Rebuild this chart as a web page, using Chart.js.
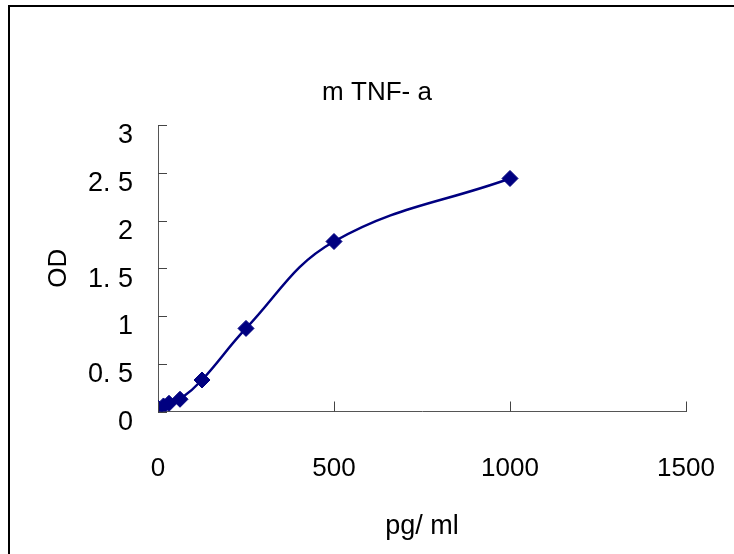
<!DOCTYPE html>
<html>
<head>
<meta charset="utf-8">
<script src="https://cdn.jsdelivr.net/npm/chart.js@4.4.0/dist/chart.umd.min.js"></script>
<style>
  body { margin: 0; background: #fff; }
  canvas { display: block; }
</style>
</head>
<body>
<canvas id="myChart" width="734" height="554"></canvas>
<script>
// standard curve data
var concentrations = [0, 15.6, 31.25, 62.5, 125, 250, 500, 1000];
var odValues = [0.035, 0.058, 0.086, 0.128, 0.33, 0.87, 1.78, 2.44];
var xTickValues = [0, 500, 1000, 1500];
var yTickValues = [0, 0.5, 1, 1.5, 2, 2.5, 3];

var fontFamily = "'Liberation Sans', Arial, sans-serif";

// outer frame + inside tick marks
var framePlugin = {
    id: 'frame',
    beforeDraw: function(chart) {
        var ctx = chart.ctx;
        ctx.save();
        ctx.fillStyle = '#fff';
        ctx.fillRect(0, 0, chart.width, chart.height);
        ctx.strokeStyle = '#000';
        ctx.lineWidth = 2;
        ctx.strokeRect(9, 6, 900, 900);
        ctx.restore();
    },
    afterDraw: function(chart) {
        var ctx = chart.ctx;
        var xs = chart.scales.x, ys = chart.scales.y;
        ctx.save();
        ctx.strokeStyle = '#444';
        ctx.lineWidth = 1;
        ctx.beginPath();
        yTickValues.forEach(function(v) {
            var py = Math.round(ys.getPixelForValue(v)) + 0.5;
            ctx.moveTo(xs.left, py);
            ctx.lineTo(xs.left + 9, py);
        });
        xTickValues.forEach(function(v) {
            var px = Math.round(xs.getPixelForValue(v)) + 0.5;
            ctx.moveTo(px, ys.bottom);
            ctx.lineTo(px, ys.bottom - 10);
        });
        ctx.stroke();
        ctx.restore();
    }
};

function noOverflow(scale) {
    scale.paddingLeft = 0;
    scale.paddingRight = 0;
    scale.paddingTop = 0;
    scale.paddingBottom = 0;
}

var ctx = document.getElementById('myChart');

new Chart(ctx, {
    type: 'scatter',
    data: {
        datasets: [{
            label: 'mTNF-a',
            data: concentrations.map(function(c, i) { return {x: c, y: odValues[i]}; }),
            showLine: true,
            tension: 0.4,
            borderColor: '#000080',
            backgroundColor: '#000080',
            borderWidth: 2.5,
            pointStyle: 'rectRot',
            pointRadius: 8,
            pointBorderWidth: 1,
            pointBorderColor: '#000080',
            pointBackgroundColor: '#000080'
        }]
    },
    options: {
        responsive: false,
        animation: false,
        devicePixelRatio: 1,
        layout: {
            padding: { left: 68, top: 0, right: 48, bottom: 0 }
        },
        plugins: {
            legend: { display: false },
            tooltip: { enabled: false },
            title: {
                display: true,
                text: 'm TNF- a',
                color: '#000',
                font: { family: fontFamily, size: 26, weight: 'normal' },
                padding: { top: 77, bottom: 16.8 }
            }
        },
        scales: {
            x: {
                type: 'linear',
                min: 0,
                max: 1500,
                afterFit: function(scale) { scale.height = 142.5; noOverflow(scale); },
                afterBuildTicks: function(scale) {
                    scale.ticks = xTickValues.map(function(v) { return {value: v}; });
                },
                grid: { display: true, drawOnChartArea: false, drawTicks: false },
                border: { display: true, color: '#555', width: 1 },
                ticks: {
                    color: '#000',
                    padding: 42,
                    maxRotation: 0,
                    font: { family: fontFamily, size: 26 },
                    callback: function(value) { return String(value); }
                },
                title: {
                    display: true,
                    text: 'pg/ ml',
                    color: '#000',
                    font: { family: fontFamily, size: 27 },
                    padding: { top: 0, bottom: 11 }
                }
            },
            y: {
                type: 'linear',
                min: 0,
                max: 3,
                afterFit: function(scale) { scale.width = 90; noOverflow(scale); },
                afterBuildTicks: function(scale) {
                    scale.ticks = yTickValues.map(function(v) { return {value: v}; });
                },
                grid: { display: true, drawOnChartArea: false, drawTicks: false },
                border: { display: true, color: '#555', width: 1 },
                ticks: {
                    color: '#000',
                    padding: 25,
                    labelOffset: 11,
                    font: { family: fontFamily, size: 27 },
                    callback: function(value) { return String(value).replace('.', '. '); }
                },
                title: {
                    display: true,
                    text: 'OD',
                    color: '#000',
                    font: { family: fontFamily, size: 26 },
                    padding: { top: -24.6, bottom: 0 }
                }
            }
        }
    },
    plugins: [framePlugin]
});
</script>
</body>
</html>
